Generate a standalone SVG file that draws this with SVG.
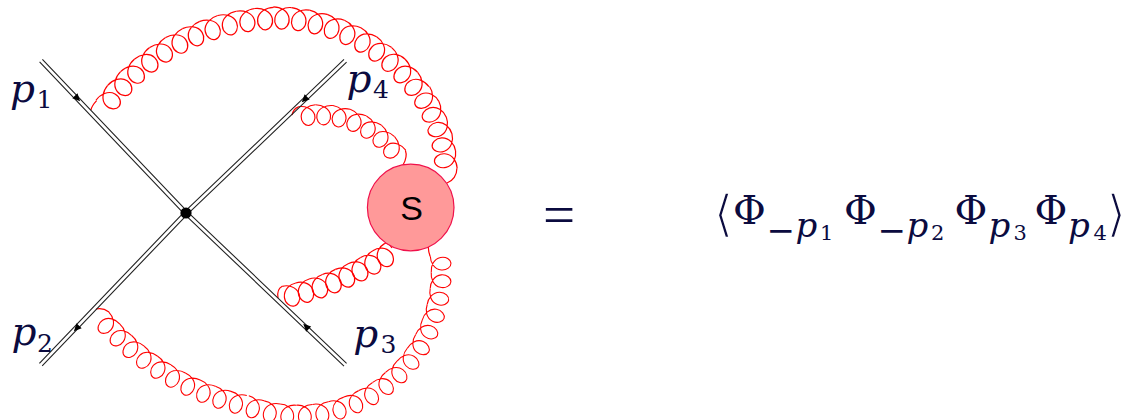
<svg xmlns="http://www.w3.org/2000/svg" width="1126" height="420" viewBox="0 0 1126 420">
<style>
.g{fill:none;stroke:#f00;stroke-width:1.2}
.l{fill:none;stroke:#222;stroke-width:1.1}
.m{font-family:"DejaVu Serif",serif;fill:#0b0b3f}
.p{font-style:italic;font-size:39px}
.d{font-size:25px}
.sp{font-style:italic;font-size:34px}
.sd{font-size:21px}
.ph{font-size:40px}
.mn{font-size:34px}
.b{font-family:"DejaVu Sans",sans-serif;font-size:50px;fill:#0b0b3f;stroke:#fff;stroke-width:1.6}
</style>
<defs>
<path id="g" class="g" d="M-9 0C-2-.3 5.8 3.5 7 11C8 17 4 22 0 22C-4 22-8 17-7 11C-5.8 3.5 2-.3 9 0"/>
<path id="h" class="g" d="M-7 0C-1-.3 6.3 3.5 7.5 11C8.5 17 4 22 0 22C-4 22-8.5 17-7.5 11C-6.3 3.5 1-.3 7 0"/>
<use id="ta" href="#g" transform="translate(0 -224.5) scale(1.047 1)"/>
<use id="tb" href="#g" transform="translate(0 -190) scale(1.008 1)"/>
<use id="td" href="#g" transform="translate(0 -149) scale(.972 1)"/>
<use id="tc" href="#g" transform="translate(0 -105) scale(.97 .9)"/>
<use id="ba" href="#g" transform="translate(0 256) scale(.911 .92)"/>
<use id="bb" href="#g" transform="translate(0 133) scale(.893 .92)"/>
<use id="bc" href="#h" transform="translate(0 320)"/>
<polygon id="a" points="4.5,0 -3,-3.6 -3,3.6" fill="#000"/>
</defs>
<g id="connectors">
<g id="gluon-top">
<path class="g" d="M91 110C91.5 107 94 103.5 96.6 100.7"/>
<g transform="translate(278 232)">
<use href="#ta" transform="rotate(-51.7)"/><use href="#ta" transform="rotate(-46.88)"/><use href="#ta" transform="rotate(-42.06)"/><use href="#ta" transform="rotate(-37.24)"/><use href="#ta" transform="rotate(-32.42)"/><use href="#ta" transform="rotate(-27.6)"/><use href="#ta" transform="rotate(-22.78)"/><use href="#ta" transform="rotate(-17.96)"/><use href="#ta" transform="rotate(-13.14)"/><use href="#ta" transform="rotate(-8.32)"/><use href="#ta" transform="rotate(-3.5)"/>
</g>
<g transform="translate(274 197)">
<use href="#tb" transform="rotate(2.56)"/><use href="#tb" transform="rotate(8.03)"/><use href="#tb" transform="rotate(13.5)"/><use href="#tb" transform="rotate(18.97)"/><use href="#tb" transform="rotate(24.44)"/><use href="#tb" transform="rotate(29.91)"/><use href="#tb" transform="rotate(35.38)"/><use href="#tb" transform="rotate(40.85)"/><use href="#tb" transform="rotate(46.32)"/><use href="#tb" transform="rotate(51.79)"/>
</g>
<g transform="translate(308 173.2)">
<use href="#td" transform="rotate(57.86)"/><use href="#td" transform="rotate(64.58)"/><use href="#td" transform="rotate(71.3)"/><use href="#td" transform="rotate(78.02)"/><use href="#td" transform="rotate(84.74)"/>
</g>
<path class="g" d="M456.9 168.3C457 175 453 181 447 183"/>
</g>
<g id="gluon-p4">
<path class="g" d="M292 115C293 111 295 108 298.1 107.1"/>
<g transform="translate(319 210)">
<use href="#tc" transform="rotate(-6.7)"/><use href="#tc" transform="rotate(2.85)"/><use href="#tc" transform="rotate(12.4)"/><use href="#tc" transform="rotate(21.95)"/><use href="#tc" transform="rotate(31.5)"/><use href="#tc" transform="rotate(41.05)"/><use href="#tc" transform="rotate(50.6)"/>
</g>
<path class="g" d="M405.4 150.3C407 155 406 160 403 165"/>
</g>
<g id="gluon-bottom">
<path class="g" d="M96 309C100 308 105 309 109 311.9"/>
<g transform="translate(303.7 145.8)">
<use href="#ba" transform="rotate(47.7)"/><use href="#ba" transform="rotate(44.03)"/><use href="#ba" transform="rotate(40.36)"/><use href="#ba" transform="rotate(36.69)"/><use href="#ba" transform="rotate(33.02)"/><use href="#ba" transform="rotate(29.35)"/><use href="#ba" transform="rotate(25.68)"/><use href="#ba" transform="rotate(22.01)"/><use href="#ba" transform="rotate(18.34)"/><use href="#ba" transform="rotate(14.67)"/>
</g>
<g transform="translate(298 272)">
<use href="#bb" transform="rotate(18.2)"/><use href="#bb" transform="rotate(11.23)"/><use href="#bb" transform="rotate(4.26)"/><use href="#bb" transform="rotate(-2.71)"/><use href="#bb" transform="rotate(-9.68)"/><use href="#bb" transform="rotate(-16.65)"/><use href="#bb" transform="rotate(-23.62)"/><use href="#bb" transform="rotate(-30.59)"/><use href="#bb" transform="rotate(-37.56)"/><use href="#bb" transform="rotate(-44.53)"/><use href="#bb" transform="rotate(-51.5)"/><use href="#bb" transform="rotate(-58.47)"/><use href="#bb" transform="rotate(-65.44)"/><use href="#bb" transform="rotate(-72.41)"/><use href="#bb" transform="rotate(-79.38)"/><use href="#bb" transform="rotate(-86.35)"/><use href="#bb" transform="rotate(-93.32)"/>
</g>
<path class="g" d="M430.1 256.2C429 253 428 250 428.5 247"/>
</g>
<g id="gluon-p3">
<path class="g" d="M278 298C277 292 279 288 282.2 286.3"/>
<g transform="translate(211.6 -25.8)">
<use href="#bc" transform="rotate(-14)"/><use href="#bc" transform="rotate(-16.5)"/><use href="#bc" transform="rotate(-19)"/><use href="#bc" transform="rotate(-21.5)"/><use href="#bc" transform="rotate(-24)"/><use href="#bc" transform="rotate(-26.5)"/><use href="#bc" transform="rotate(-29)"/><use href="#bc" transform="rotate(-31.5)"/>
</g>
<path class="g" d="M384.7 243.3C387 243 390 245 392 248"/>
</g>
<g id="lines">
<path class="l" d="M42.4 59.3L187.4 211.7M39.6 61.9L184.6 214.3"/>
<path class="l" d="M187.3 211.6L346.6 363.4M184.7 214.4L344 366.2"/>
<path class="l" d="M187.3 214.4L346.6 62.2M184.7 211.6L344 59.4"/>
<path class="l" d="M187.4 214.3L42.2 365.9M184.6 211.7L39.4 363.3"/>
<use href="#a" transform="translate(77 98) rotate(46)"/>
<use href="#a" transform="translate(305 99) rotate(136)"/>
<use href="#a" transform="translate(77 328) rotate(134)"/>
<use href="#a" transform="translate(306.5 327) rotate(224)"/>
</g>
</g>
<g id="vertex"><circle cx="186" cy="213" r="5.6" fill="#000"/></g>
<g id="blob">
<circle cx="410.7" cy="207.5" r="43.3" fill="#ff9999" stroke="#f0104a" stroke-width="1.2"/>
<text x="411.5" y="219.5" text-anchor="middle" font-family="'Liberation Sans',sans-serif" font-size="34" fill="#000">S</text>
</g>
<g id="label-p1"><text class="m p" x="10" y="102">p</text><text class="m d" x="36.5" y="108">1</text></g>
<g id="label-p4"><text class="m p" x="346.5" y="92">p</text><text class="m d" x="373" y="98">4</text></g>
<g id="label-p2"><text class="m p" x="11.5" y="345">p</text><text class="m d" x="37" y="352">2</text></g>
<g id="label-p3"><text class="m p" x="353.2" y="346.7">p</text><text class="m d" x="380.5" y="353.3">3</text></g>
<g id="equation">
<text x="543" y="233.5" font-family="'Liberation Serif',serif" fill="#0b0b3f" font-size="57">=</text>
<text class="b" x="713.7" y="231">⟨</text>
<text class="m ph" x="733" y="224">Φ</text>
<text class="m mn" x="766.4" y="242">−</text><text class="m sp" x="795.5" y="237">p</text><text class="m sd" x="820" y="239.5">1</text>
<text class="m ph" x="844" y="224">Φ</text>
<text class="m mn" x="877.4" y="242">−</text><text class="m sp" x="906.5" y="237">p</text><text class="m sd" x="931" y="239.5">2</text>
<text class="m ph" x="954.5" y="224">Φ</text>
<text class="m sp" x="988.5" y="237">p</text><text class="m sd" x="1013.5" y="239.5">3</text>
<text class="m ph" x="1034.5" y="224">Φ</text>
<text class="m sp" x="1068" y="237">p</text><text class="m sd" x="1093.5" y="239.5">4</text>
<text class="b" x="1106.5" y="231">⟩</text>
</g>
</svg>
